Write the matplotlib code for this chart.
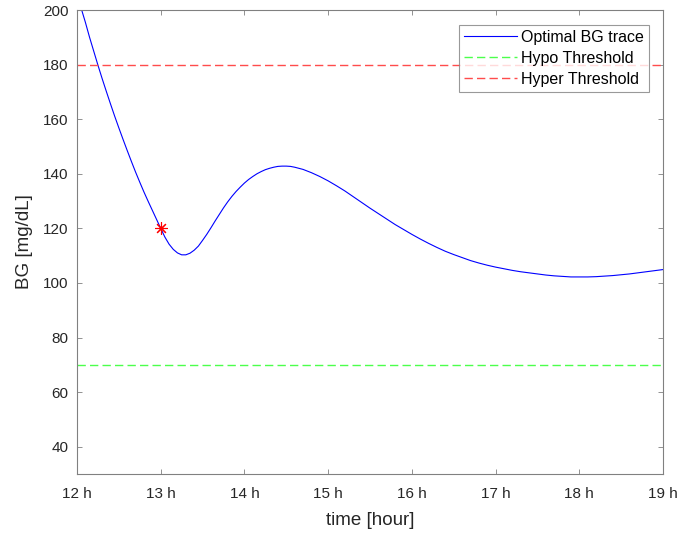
import matplotlib.pyplot as plt

plt.rcParams['font.family'] = ['Liberation Sans', 'DejaVu Sans']

# optimal blood glucose trace, hours vs mg/dL
t_hours = [12.0, 12.05, 12.1, 12.15, 12.2, 12.25, 12.3, 12.35, 12.4, 12.45,
           12.5, 12.55, 12.6, 12.65, 12.7, 12.75, 12.8, 12.85, 12.9, 12.95,
           13.0, 13.05, 13.1, 13.15, 13.2, 13.25, 13.3, 13.35, 13.4, 13.45,
           13.5, 13.55, 13.6, 13.65, 13.7, 13.75, 13.8, 13.85, 13.9, 13.95,
           14.0, 14.05, 14.1, 14.15, 14.2, 14.25, 14.3, 14.35, 14.4, 14.45,
           14.5, 14.55, 14.6, 14.65, 14.7, 14.75, 14.8, 14.85, 14.9, 14.95,
           15.0, 15.1, 15.2, 15.3, 15.4, 15.5, 15.6, 15.7, 15.8, 15.9,
           16.0, 16.1, 16.2, 16.3, 16.4, 16.5, 16.6, 16.7, 16.8, 16.9,
           17.0, 17.1, 17.2, 17.3, 17.4, 17.5, 17.6, 17.7, 17.8, 17.9,
           18.0, 18.1, 18.2, 18.3, 18.4, 18.5, 18.6, 18.7, 18.8, 18.9, 19.0]
bg_trace = [206.0, 200.6, 195.5, 190.0, 184.9, 179.8, 174.9, 170.2, 165.6, 161.1,
            156.8, 152.6, 148.5, 144.5, 140.6, 136.9, 133.3, 129.9, 126.6, 123.3,
            120.0, 116.8, 114.2, 112.3, 111.0, 110.3, 110.3, 110.9, 112.0, 113.5,
            115.6, 117.8, 120.2, 122.7, 125.1, 127.5, 129.7, 131.7, 133.5, 135.1,
            136.6, 137.9, 139.0, 140.0, 140.8, 141.5, 142.0, 142.4, 142.7, 142.8,
            142.8, 142.7, 142.4, 142.0, 141.6, 141.0, 140.4, 139.7, 139.0, 138.2,
            137.4, 135.6, 133.7, 131.6, 129.5, 127.4, 125.4, 123.4, 121.4, 119.6,
            117.8, 116.1, 114.5, 113.0, 111.6, 110.4, 109.3, 108.2, 107.3, 106.5,
            105.8, 105.2, 104.6, 104.1, 103.7, 103.3, 102.9, 102.6, 102.4, 102.2,
            102.2, 102.2, 102.3, 102.5, 102.7, 103.0, 103.3, 103.7, 104.1, 104.5, 104.9]

hypo = 70
hyper = 180
marker_t = 13.0
marker_bg = 120

xticks = [12, 13, 14, 15, 16, 17, 18, 19]
xticklabels = ['%d h' % h for h in xticks]
yticks = [40, 60, 80, 100, 120, 140, 160, 180, 200]

fig = plt.figure(figsize=(6.83, 5.35), dpi=100)
ax = fig.add_axes([77/683, 61/535, 586/683, 464/535])

ax.plot(t_hours, bg_trace, color='#0000ff', lw=0.8, label='Optimal BG trace')
ax.axhline(hypo, color='#4cff4c', lw=1.0, dashes=(6, 3), label='Hypo Threshold')
ax.axhline(hyper, color='#ff4c4c', lw=1.0, dashes=(6, 3), label='Hyper Threshold')
ax.plot(marker_t, marker_bg, marker=(8, 2, 0), color='red', ms=9, mew=0.8)

ax.set_xlim(12, 19)
ax.set_ylim(30, 200)
ax.set_xticks(xticks)
ax.set_xticklabels(xticklabels)
ax.set_yticks(yticks)

grey = '#262626'
for s in ax.spines.values():
    s.set_color('#808080')
    s.set_linewidth(0.8)
ax.tick_params(direction='in', length=3.6, width=0.6, color='#808080',
               labelcolor=grey, labelsize=11, top=True, right=True)
ax.tick_params(axis='x', pad=9)
ax.tick_params(axis='y', pad=6)
ax.set_xlabel('time [hour]', fontsize=13.5, color=grey, labelpad=8)
ax.set_ylabel('BG [mg/dL]', fontsize=13.5, color=grey, labelpad=7)

leg = ax.legend(loc='upper right', bbox_to_anchor=(572/586, 449/464),
                borderaxespad=0, fontsize=11.5, frameon=True, fancybox=False,
                handlelength=3.3, handletextpad=0.3, labelspacing=0.38,
                borderpad=0.3)
leg.get_frame().set_edgecolor('#808080')
leg.get_frame().set_linewidth(0.8)

fig.savefig('out.png', dpi=100)
